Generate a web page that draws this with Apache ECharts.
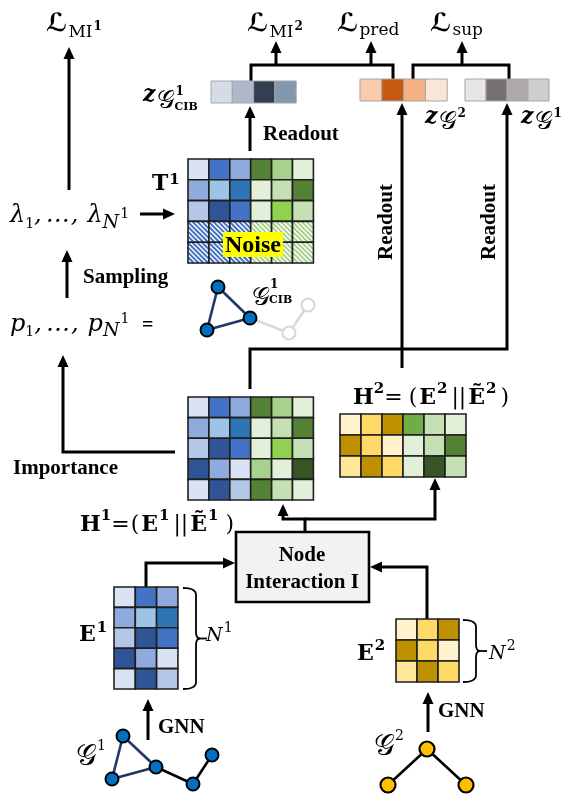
<!DOCTYPE html>
<html><head><meta charset="utf-8">
<script src="https://cdn.jsdelivr.net/npm/echarts@6/dist/echarts.min.js"></script>
<style>html,body{margin:0;padding:0;background:#fff}#c{width:565px;height:795px}</style>
</head><body><div id="c"></div>
<script>
// ---------------- DATA ----------------
const paletteBlue   = ['#dae3f3','#b4c7e7','#8faadc','#9dc3e6','#4472c4','#2e75b6','#2f5597'];
const paletteGreen  = ['#e2f0d9','#c5e0b4','#a9d18e','#92d050','#70ad47','#548235','#375623'];
const paletteGold   = ['#fff2cc','#ffe699','#ffd966','#bf9000'];
const paletteSlate  = ['#d6dce5','#adb9ca','#8497b0','#333f50'];
const paletteOrange = ['#fbe5d6','#f8cbad','#f4b183','#c55a11'];
const paletteGray   = ['#e7e6e6','#d0cece','#aeaaaa','#767171'];

const matrixT1 = [
  ['B0','B4','B2','G5','G2','G0'],
  ['B2','B3','B5','G0','G1','G5'],
  ['B1','B6','B4','G0','G3','G1'],
  ['b','b','b','g','g','g'],
  ['b','b','b','g','g','g']];
const matrixH1 = [
  ['B0','B4','B2','G5','G2','G0'],
  ['B2','B3','B5','G0','G1','G5'],
  ['B1','B6','B4','G0','G3','G1'],
  ['B6','B2','B0','G2','G0','G6'],
  ['B0','B6','B1','G5','G1','G0']];
const matrixE1 = [
  ['B0','B4','B2'],
  ['B2','B3','B5'],
  ['B1','B6','B4'],
  ['B6','B2','B0'],
  ['B0','B6','B1']];
const matrixH2 = [
  ['Y0','Y2','Y3','G4','G1','G0'],
  ['Y3','Y2','Y0','G0','G1','G5'],
  ['Y1','Y3','Y2','G0','G6','G1']];
const matrixE2 = [
  ['Y0','Y2','Y3'],
  ['Y3','Y2','Y0'],
  ['Y1','Y3','Y2']];
const vectorZcib = [['S0','S1','S3','S2']];
const vectorZg2  = [['O1','O3','O2','O0']];
const vectorZg1  = [['K0','K3','K2','K1']];

// graphs: node positions and edges
const graphG1Nodes   = [[123,736],[112,779],[156,767],[193,784],[212,755]];
const graphG1Edges   = [[0,1,'n'],[0,2,'n'],[1,2,'n'],[2,3,'k'],[3,4,'k']];
const graphG2Nodes   = [[427,749],[388,785],[466,785]];
const graphG2Edges   = [[0,1,'k'],[0,2,'k']];
const graphCibNodes  = [[218,287],[250,318],[207,330],[289,333],[308,305]];
const graphCibKept   = [1,1,1,0,0];
const graphCibEdges  = [[0,1,'n'],[1,2,'n'],[0,2,'n'],[1,3,'g'],[3,4,'g']];

// ---------------- LAYOUT / STYLE ----------------
const PAL = {B:paletteBlue,G:paletteGreen,Y:paletteGold,S:paletteSlate,O:paletteOrange,K:paletteGray};
const HATCH = {b:'#4472c4', g:'#a9d18e'};
const MATS = [
  {cells:matrixT1,  x:188, y:159, cw:20.9, ch:20.8, stroke:'#1e1e1e', lw:1.6},
  {cells:matrixH1,  x:188, y:397, cw:20.9, ch:20.6, stroke:'#1e1e1e', lw:1.6},
  {cells:matrixH2,  x:340, y:414, cw:21,   ch:21,   stroke:'#1e1e1e', lw:1.6},
  {cells:matrixE1,  x:114, y:587, cw:21.3, ch:20.4, stroke:'#1e1e1e', lw:1.6},
  {cells:matrixE2,  x:396, y:619, cw:21,   ch:21,   stroke:'#1e1e1e', lw:1.6},
  {cells:vectorZcib,x:211, y:81,  cw:21.3, ch:22,   stroke:'#a6a6a6', lw:1},
  {cells:vectorZg2, x:360, y:79,  cw:21.8, ch:22,   stroke:'#a6a6a6', lw:1},
  {cells:vectorZg1, x:465, y:79,  cw:21,   ch:22,   stroke:'#a6a6a6', lw:1}
];
const cellInfo = [], cellData = [];
MATS.forEach(m => m.cells.forEach((row,r) => row.forEach((code,c) => {
  cellInfo.push({code, stroke:m.stroke, lw:m.lw});
  cellData.push([m.x + c*m.cw, m.y + r*m.ch, m.cw, m.ch, cellInfo.length-1]);
})));

const CONNECTORS = [
  {pts:[[69,190],[69,47]], arrow:true},
  {pts:[[67,298],[67,250]], arrow:true},
  {pts:[[140,214],[175,214]], arrow:true},
  {pts:[[175,452],[63,452],[63,355]], arrow:true},
  {pts:[[250,151],[250,106]], arrow:true},
  {pts:[[251,81],[251,65],[393,65],[393,79]], arrow:false},
  {pts:[[276,65],[276,41]], arrow:true},
  {pts:[[371,65],[371,41]], arrow:true},
  {pts:[[413,79],[413,65],[509,65],[509,79]], arrow:false},
  {pts:[[462,65],[462,41]], arrow:true},
  {pts:[[402,368],[402,103]], arrow:true},
  {pts:[[250,389],[250,349],[507,349],[507,103]], arrow:true},
  {pts:[[305,532],[305,519],[283,519],[283,504]], arrow:true},
  {pts:[[305,519],[435,519],[435,478]], arrow:true},
  {pts:[[146,587],[146,563],[235,563]], arrow:true},
  {pts:[[427,619],[427,567],[370,567]], arrow:true},
  {pts:[[148,740],[148,699]], arrow:true},
  {pts:[[428,732],[428,692]], arrow:true}
];
const BRACES = [
  {x0:183, x1:196, tip:207, y0:588, y1:689},
  {x0:463, x1:476, tip:487, y0:620, y1:682}
];
const NODE_BOX = {x:236, y:532, w:133, h:70};

const SERIF = '"DejaVu Serif","DejaVu Sans"';
const F = {
  scrL: 'bold 25px ' + SERIF,
  scrG: '25px ' + SERIF,
  scrGL:'29px ' + SERIF,
  sub:  '17px ' + SERIF,
  supB: 'bold 12px ' + SERIF,
  supM: 'bold 15px ' + SERIF,
  supR: '14px ' + SERIF,
  num:  '14px ' + SERIF,
  mB:   'bold 22px ' + SERIF,
  mR:   '22px ' + SERIF,
  it:   'italic 24px ' + SERIF,
  itN:  'italic 19px ' + SERIF,
  zB:   'bold italic 22px ' + SERIF,
  cib:  'bold 11px ' + SERIF,
  word: 'bold 21px "Liberation Serif"',
  noise:'bold 24px "Liberation Serif"',
  eq:   'bold 20px "Liberation Serif"'
};
// [text, font, x, baseline, align]; x '+g' = after previous part with gap g, '@g' = previous start + g
const LABELS = [
  [['\u2112','scrL',46,31],['MI','sub','+1',37],['1','supB','+1',30]],
  [['\u2112','scrL',247,31],['MI','sub','+1',37],['2','supB','+1',30]],
  [['\u2112','scrL',337,31],['pred','sub','+1',35]],
  [['\u2112','scrL',430,31],['sup','sub','+1',35]],
  [['z','zB',143,101],['\uD835\uDCA2','scrG','+2',108],['1','supB','+0',95],['CIB','cib','@-1',110]],
  [['z','zB',425,123],['\uD835\uDCA2','scrG','+2',129],['2','supB','+0',117]],
  [['z','zB',521,123],['\uD835\uDCA2','scrG','+2',129],['1','supB','+0',117]],
  [['Readout','word',263,140]],
  [['T','mB',152,190],['1','supM','+1',184]],
  [['\u03BB','it',10,222],['1','num','+0',228],[',','it','+0',222],['\u2026','it','+4',222],[',','it','+1',222],['\u03BB','it','+9',222],['N','itN','+0',228],['1','supR','+1',218]],
  [['Sampling','word',83,283]],
  [['p','it',10,331],['1','num','+0',336],[',','it','+0',331],['\u2026','it','+4',331],[',','it','+1',331],['p','it','+9',331],['N','itN','+0',336],['1','supR','+1',323],['=','eq',142,331]],
  [['\uD835\uDCA2','scrG',252,305],['1','supB','+0',288],['CIB','cib','@-1',303]],
  [['Importance','word',13,474]],
  [['H','mB',80,531],['1','supM','+0',520],['=','mR','+0',531],['(','mR','+1',531],['E','mB','+2',531],['1','supM','+1',520],['||','mR','+4',531],['\u1EBC','mB','+2',531],['1','supM','+1',520],[')','mR','+7',531]],
  [['H','mB',353,404],['2','supM','+0',393],['=','mR','+0',404],['(','mR','+6',404],['E','mB','+2',404],['2','supM','+1',393],['||','mR','+4',404],['\u1EBC','mB','+2',404],['2','supM','+1',393],[')','mR','+4',404]],
  [['Node','word',302,561,'center']],
  [['Interaction I','word',302,588,'center']],
  [['E','mB',79,641],['1','supM','+1',632]],
  [['N','itN',206,641],['1','supR','+1',632]],
  [['E','mB',357,660],['2','supM','+1',650]],
  [['N','itN',489,659],['2','supR','+1',650]],
  [['GNN','word',158,733]],
  [['GNN','word',438,717]],
  [['\uD835\uDCA2','scrGL',76,765],['1','supR','+0',750]],
  [['\uD835\uDCA2','scrGL',374,755],['2','supR','+0',740]]
];
const VLABELS = [['Readout',387,222],['Readout',490,222]];
const NOISE = {x:223, y:232, w:60, h:25, cx:253, cy:245};

// ---------------- HELPERS ----------------
const mctx = document.createElement('canvas').getContext('2d');
const offCache = {};
function baseOff(font){
  if (offCache[font] == null){ mctx.font = font; mctx.textBaseline = 'middle';
    offCache[font] = mctx.measureText('H').actualBoundingBoxDescent; }
  return offCache[font];
}
function textW(t, font){ mctx.font = font; return mctx.measureText(t).width; }
function colorOf(code){ return PAL[code[0]][+code.slice(1)]; }

// ---------------- CHART ----------------
const chart = echarts.init(document.getElementById('c'), null, {renderer:'canvas', width:565, height:795});

function renderCell(params, api){
  const info = cellInfo[api.value(4)];
  const p0 = api.coord([api.value(0), api.value(1)]);
  const p1 = api.coord([api.value(0)+api.value(2), api.value(1)+api.value(3)]);
  const w = p1[0]-p0[0], h = p1[1]-p0[1];
  const children = [];
  if (info.code.length === 1){
    children.push({type:'rect', shape:{x:p0[0],y:p0[1],width:w,height:h}, style:{fill:'#fff'}});
    const step = 4.8;
    for (let d = -h + 1; d < w; d += step){
      const ya = Math.max(0,-d), yb = Math.min(h, w-d);
      if (yb - ya < 0.5) continue;
      children.push({type:'line', shape:{x1:p0[0]+ya+d, y1:p0[1]+ya, x2:p0[0]+yb+d, y2:p0[1]+yb},
        style:{stroke:HATCH[info.code], lineWidth:2}});
    }
    children.push({type:'rect', shape:{x:p0[0],y:p0[1],width:w,height:h}, style:{fill:null, stroke:info.stroke, lineWidth:info.lw}});
  } else {
    children.push({type:'rect', shape:{x:p0[0],y:p0[1],width:w,height:h},
      style:{fill:colorOf(info.code), stroke:info.stroke, lineWidth:info.lw}});
  }
  return {type:'group', children};
}

function renderConnector(params, api){
  const c = CONNECTORS[params.dataIndex];
  const pts = c.pts.map(p => api.coord(p));
  const children = [];
  if (c.arrow){
    const n = pts.length, P = pts[n-1], Q = pts[n-2];
    const dx = P[0]-Q[0], dy = P[1]-Q[1], L = Math.hypot(dx,dy), ux = dx/L, uy = dy/L;
    const len = 12, hw = 5.5;
    const line = pts.slice(0, n-1).concat([[P[0]-ux*(len-2), P[1]-uy*(len-2)]]);
    children.push({type:'polyline', shape:{points:line}, style:{stroke:'#000', lineWidth:3, fill:null, lineJoin:'miter'}});
    const bx = P[0]-ux*len, by = P[1]-uy*len;
    children.push({type:'polygon', shape:{points:[[P[0],P[1]],[bx - uy*hw, by + ux*hw],[bx + uy*hw, by - ux*hw]]}, style:{fill:'#000'}});
  } else {
    children.push({type:'polyline', shape:{points:pts}, style:{stroke:'#000', lineWidth:3, fill:null, lineJoin:'miter'}});
  }
  return {type:'group', children};
}

function quad(a, b, c, n){
  const out = [];
  for (let i=0;i<=n;i++){ const t=i/n, s=1-t;
    out.push([s*s*a[0]+2*s*t*b[0]+t*t*c[0], s*s*a[1]+2*s*t*b[1]+t*t*c[1]]); }
  return out;
}
function renderBrace(params, api){
  const b = BRACES[params.dataIndex];
  const ym = (b.y0+b.y1)/2, r = 7;
  const p1 = quad([b.x0,b.y0],[b.x1,b.y0],[b.x1,b.y0+r],8).concat(quad([b.x1,ym-r],[b.x1,ym],[b.x1+4,ym],6));
  const p2 = quad([b.x1+4,ym],[b.x1,ym],[b.x1,ym+r],6).concat(quad([b.x1,b.y1-r],[b.x1,b.y1],[b.x0,b.y1],8));
  const tip = [api.coord([b.x1+2,ym]), api.coord([b.tip,ym])];
  const st = {stroke:'#000', lineWidth:1.8, fill:null};
  return {type:'group', children:[
    {type:'polyline', shape:{points:p1.map(q => api.coord(q))}, style:st},
    {type:'polyline', shape:{points:p2.map(q => api.coord(q))}, style:st},
    {type:'line', shape:{x1:tip[0][0],y1:tip[0][1],x2:tip[1][0],y2:tip[1][1]}, style:st}
  ]};
}

function renderLabel(params, api){
  const parts = LABELS[params.dataIndex];
  let prevStart = 0, prevEnd = 0;
  const children = parts.map(pt => {
    const font = F[pt[1]];
    let x = pt[2];
    if (typeof x === 'string') x = (x[0] === '+' ? prevEnd : prevStart) + parseFloat(x.slice(1));
    const w = textW(pt[0], font);
    prevStart = x; prevEnd = x + w;
    const p = api.coord([x, pt[3]]);
    return {type:'text', style:{text:pt[0], x:p[0], y:p[1]-baseOff(font), font, fill:'#000',
      align: pt[4] || 'left', verticalAlign:'middle'}};
  });
  return {type:'group', children};
}
function renderVLabel(params, api){
  const v = VLABELS[params.dataIndex];
  const p = api.coord([v[1], v[2]]);
  return {type:'text', x:p[0], y:p[1], rotation:Math.PI/2,
    style:{text:v[0], x:0, y:0, font:F.word, fill:'#000', align:'center', verticalAlign:'middle'}};
}
function renderBox(params, api){
  const p0 = api.coord([NODE_BOX.x, NODE_BOX.y]), p1 = api.coord([NODE_BOX.x+NODE_BOX.w, NODE_BOX.y+NODE_BOX.h]);
  return {type:'rect', shape:{x:p0[0],y:p0[1],width:p1[0]-p0[0],height:p1[1]-p0[1]}, style:{fill:'#f2f2f2', stroke:'#000', lineWidth:2.6}};
}
function renderNoise(params, api){
  const p0 = api.coord([NOISE.x, NOISE.y]), p1 = api.coord([NOISE.x+NOISE.w, NOISE.y+NOISE.h]);
  const c = api.coord([NOISE.cx, NOISE.cy]);
  return {type:'group', children:[
    {type:'rect', shape:{x:p0[0],y:p0[1],width:p1[0]-p0[0],height:p1[1]-p0[1]}, style:{fill:'#ffff00'}},
    {type:'text', style:{text:'Noise', x:c[0], y:c[1]+1, font:F.noise, fill:'#000', align:'center', verticalAlign:'middle'}}
  ]};
}

const EDGE_COLORS = {n:'#1f3864', k:'#000000', g:'#d9d9d9'};
function graphSeries(nodes, edges, fillFn, size){
  return {
    type:'graph', coordinateSystem:'cartesian2d', silent:true, z:5,
    symbol:'circle', symbolSize:size,
    data: nodes.map((p,i) => ({value:p, itemStyle: fillFn(i)})),
    links: edges.map(e => ({source:e[0], target:e[1], lineStyle:{color:EDGE_COLORS[e[2]], width:2.6, opacity:1}})),
    lineStyle:{curveness:0},
    label:{show:false}
  };
}
const blueNode = () => ({color:'#0070c0', borderColor:'#000', borderWidth:2});

const option = {
  animation:false,
  backgroundColor:'#ffffff',
  grid:{left:0,right:0,top:0,bottom:0},
  xAxis:{type:'value', min:0, max:565, show:false},
  yAxis:{type:'value', min:0, max:795, inverse:true, show:false},
  series:[
    {type:'custom', renderItem:renderBox, data:[[NODE_BOX.x, NODE_BOX.y]], z:2, silent:true},
    {type:'custom', renderItem:renderConnector, data:CONNECTORS.map(c=>c.pts[0]), z:3, silent:true},
    {type:'custom', renderItem:renderBrace, data:BRACES.map(b=>[b.x0,b.y0]), z:3, silent:true},
    {type:'custom', renderItem:renderCell, data:cellData, z:4, silent:true},
    {type:'custom', renderItem:renderNoise, data:[[NOISE.x, NOISE.y]], z:6, silent:true},
    graphSeries(graphG1Nodes, graphG1Edges, blueNode, 13),
    graphSeries(graphG2Nodes, graphG2Edges, () => ({color:'#ffc000', borderColor:'#000', borderWidth:2.2}), 15),
    graphSeries(graphCibNodes, graphCibEdges, i => graphCibKept[i] ? blueNode() : {color:'#ffffff', borderColor:'#d9d9d9', borderWidth:2.2}, 13),
    {type:'custom', renderItem:renderLabel, data:LABELS.map(l=>[typeof l[0][2]==='number'?l[0][2]:0, l[0][3]]), z:7, silent:true},
    {type:'custom', renderItem:renderVLabel, data:VLABELS.map(v=>[v[1], v[2]]), z:7, silent:true}
  ]
};
chart.setOption(option);
</script></body></html>
